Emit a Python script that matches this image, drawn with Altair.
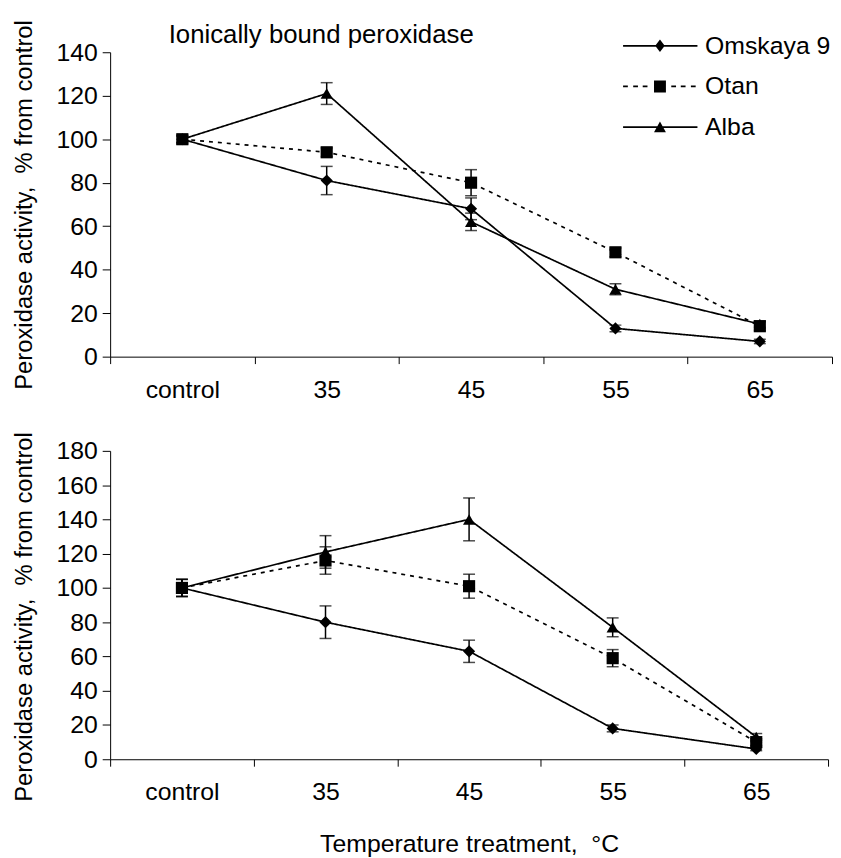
import altair as alt
import pandas as pd

# ---------------- data ----------------
categories = ["control", "35", "45", "55", "65"]
series_names = ["Omskaya 9", "Otan", "Alba"]
draw_order = ["Omskaya 9", "Alba", "Otan"]

# upper panel: ionically bound peroxidase
top_omskaya = [100, 81, 68, 13, 7]
top_otan = [100, 94, 80, 48, 14]
top_alba = [100, 121, 62, 31, 15]
top_omskaya_err = [1.5, 6.5, 5, 1.5, 1]
top_otan_err = [2, 2, 6, 2, 2]
top_alba_err = [1.5, 5, 4, 2.5, 1.5]

# lower panel
bot_omskaya = [100, 80, 63, 18, 6]
bot_otan = [100, 116, 101, 59, 10]
bot_alba = [100, 121, 140, 77, 13]
bot_omskaya_err = [5, 9.5, 6.5, 2, 1]
bot_otan_err = [5, 8, 7, 5, 2]
bot_alba_err = [5, 9.5, 12.5, 5.5, 2]

title_top = "Ionically bound peroxidase"
y_title = "Peroxidase activity,\u00a0 % from control"
x_title = "Temperature treatment,\u00a0 °C"

FONT = "Liberation Sans"
FS = 25


def build_df(vals, errs):
    rows = []
    for s in draw_order:
        for i, c in enumerate(categories):
            v = vals[s][i]
            e = errs[s][i]
            rows.append(dict(Temp=c, idx=i, Series=s, Legend=s, Value=v, lo=v - e, hi=v + e))
    return pd.DataFrame(rows)


df_top = build_df(
    {"Omskaya 9": top_omskaya, "Otan": top_otan, "Alba": top_alba},
    {"Omskaya 9": top_omskaya_err, "Otan": top_otan_err, "Alba": top_alba_err},
)
df_bot = build_df(
    {"Omskaya 9": bot_omskaya, "Otan": bot_otan, "Alba": bot_alba},
    {"Omskaya 9": bot_omskaya_err, "Otan": bot_otan_err, "Alba": bot_alba_err},
)


# legend symbols: line + marker drawn as filled custom paths (unit = 6 px)
def seg(a, b, h=0.14):
    return f"M{a},{-h}L{b},{-h}L{b},{h}L{a},{h}Z"


legend_paths = [
    seg(-6.2, 6.3) + "M0,-1.05L0.8,0L0,1.05L-0.8,0Z",
    seg(-6.2, -5.4) + seg(-4.5, -3.7) + seg(-2.9, -2.1)
    + "M-1,-1L1,-1L1,1L-1,1Z"
    + seg(1.9, 2.7) + seg(3.5, 4.3) + seg(5.2, 6.0),
    seg(-6.2, 6.3) + "M0,-0.95L1,0.85L-1,0.85Z",
]


def panel(df, ymax, width, height, xtitle, show_legend, title=None, ytitle_y=None):
    x_axis_kwargs = dict(
        labelAngle=0,
        tickBand="extent",
        tickSize=7,
        labelPadding=14,
        titlePadding=27,
    )
    x_axis_kwargs["title"] = xtitle if xtitle else None
    x = alt.X(
        "Temp:N",
        sort=categories,
        scale=alt.Scale(domain=categories, paddingInner=0, paddingOuter=0),
        axis=alt.Axis(**x_axis_kwargs),
    )
    y_axis_kwargs = dict(
        values=list(range(0, ymax + 1, 20)),
        tickSize=8,
        labelPadding=5,
        titlePadding=20,
        titleFontSize=24,
        title=y_title,
    )
    if ytitle_y is not None:
        y_axis_kwargs["titleY"] = ytitle_y
    yaxis = alt.Axis(**y_axis_kwargs)
    yscale = alt.Scale(domain=[0, ymax], nice=False, zero=True)

    base = alt.Chart(df)
    lines = base.mark_line(color="black", strokeWidth=1.7).encode(
        x=x,
        y=alt.Y("Value:Q", scale=yscale, axis=yaxis),
        strokeDash=alt.StrokeDash(
            "Series:N",
            scale=alt.Scale(domain=series_names, range=[[1, 0], [4, 5], [1, 0]]),
            legend=None,
        ),
        order=alt.Order("idx:Q"),
    )
    rules = base.mark_rule(color="black", strokeWidth=1.5).encode(
        x=x,
        y=alt.Y("lo:Q", scale=yscale, axis=yaxis),
        y2="hi:Q",
    )
    caps_lo = base.mark_tick(color="black", thickness=1.5, size=12).encode(
        x=x, y=alt.Y("lo:Q", scale=yscale, axis=yaxis)
    )
    caps_hi = base.mark_tick(color="black", thickness=1.5, size=12).encode(
        x=x, y=alt.Y("hi:Q", scale=yscale, axis=yaxis)
    )
    points = base.mark_point(filled=True, color="black", opacity=1).encode(
        x=x,
        y=alt.Y("Value:Q", scale=yscale, axis=yaxis),
        shape=alt.Shape(
            "Series:N",
            scale=alt.Scale(domain=series_names, range=["diamond", "square", "triangle-up"]),
            legend=None,
        ),
        size=alt.Size(
            "Series:N",
            scale=alt.Scale(domain=series_names, range=[150, 150, 150]),
            legend=None,
        ),
    )
    layers = [lines, rules, caps_lo, caps_hi, points]
    if show_legend:
        legend_layer = base.mark_point(
            filled=True, color="black", opacity=0
        ).encode(
            x=x,
            y=alt.Y("Value:Q", scale=yscale, axis=yaxis),
            shape=alt.Shape(
                "Legend:N",
                scale=alt.Scale(domain=series_names, range=legend_paths),
                legend=alt.Legend(
                    title=None,
                    orient="none",
                    legendX=542,
                    legendY=-19,
                    padding=0,
                    labelFontSize=FS,
                    labelFont=FONT,
                    labelColor="black",
                    labelOffset=33,
                    rowPadding=15,
                    symbolSize=144,
                    symbolStrokeWidth=0,
                    symbolOpacity=1,
                    symbolFillColor="black",
                    labelLimit=300,
                ),
            ),
        )
        layers.append(legend_layer)
    ch = alt.layer(*layers).resolve_scale(shape="independent")
    props = dict(width=width, height=height)
    if title:
        props["title"] = alt.Title(
            title,
            anchor="start",
            frame="group",
            dx=59,
            fontSize=26,
            fontWeight="normal",
            font=FONT,
            color="black",
            baseline="alphabetic",
            offset=-50,
        )
    return ch.properties(**props)


top = panel(df_top, 140, 728, 307, None, True, title=title_top)
bottom = panel(df_bot, 180, 724, 311, x_title, False, ytitle_y=167)

chart = (
    alt.vconcat(top, bottom, spacing=29)
    .properties(padding={"left": 4, "top": 7, "right": 0, "bottom": 0}, background="white")
    .configure_view(stroke=None)
    .configure_axis(
        labelFont=FONT,
        titleFont=FONT,
        labelFontSize=FS,
        titleFontSize=FS,
        titleFontWeight="normal",
        labelColor="black",
        titleColor="black",
        domainColor="black",
        tickColor="black",
        domainWidth=1,
        tickWidth=1,
        grid=False,
    )
)

chart.save("out.html", embed_options={"renderer": "svg", "actions": False})
